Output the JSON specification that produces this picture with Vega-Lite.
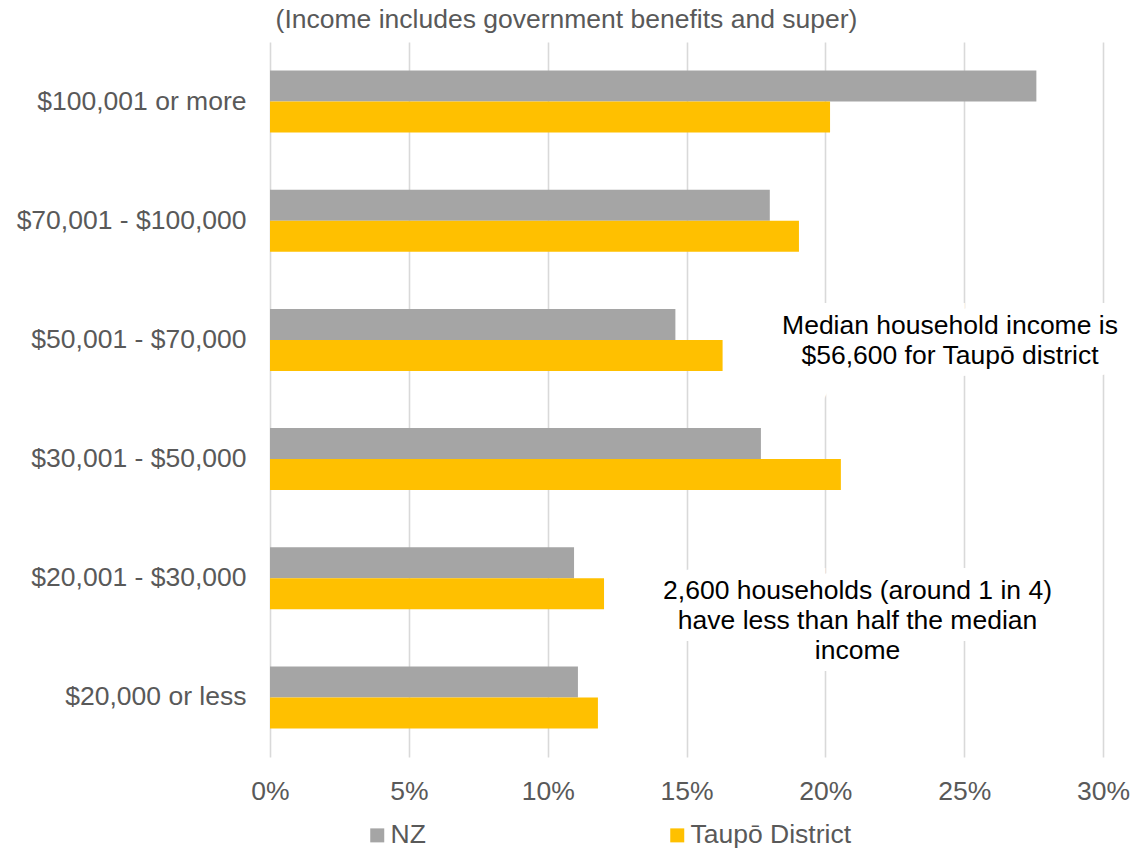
{
  "$schema": "https://vega.github.io/schema/vega-lite/v6.json",
  "width": 833,
  "height": 715,
  "autosize": {"type": "none"},
  "padding": {"left": 270, "top": 42, "right": 32, "bottom": 93},
  "background": "white",
  "title": {
    "text": "(Income includes government benefits and super)",
    "font": "Liberation Sans",
    "fontSize": 26.5,
    "fontWeight": "normal",
    "color": "#595959",
    "anchor": "middle",
    "frame": "group",
    "dx": -120,
    "offset": 9
  },
  "config": {
    "view": {"stroke": null},
    "font": "Liberation Sans"
  },
  "data": {
    "values": [
      {"band": "$100,001 or more", "series": "NZ", "pct": 27.6},
      {"band": "$100,001 or more", "series": "Taupō District", "pct": 20.17},
      {"band": "$70,001 - $100,000", "series": "NZ", "pct": 18.0},
      {"band": "$70,001 - $100,000", "series": "Taupō District", "pct": 19.05},
      {"band": "$50,001 - $70,000", "series": "NZ", "pct": 14.6},
      {"band": "$50,001 - $70,000", "series": "Taupō District", "pct": 16.3},
      {"band": "$30,001 - $50,000", "series": "NZ", "pct": 17.68},
      {"band": "$30,001 - $50,000", "series": "Taupō District", "pct": 20.56},
      {"band": "$20,001 - $30,000", "series": "NZ", "pct": 10.95},
      {"band": "$20,001 - $30,000", "series": "Taupō District", "pct": 12.03},
      {"band": "$20,000 or less", "series": "NZ", "pct": 11.09},
      {"band": "$20,000 or less", "series": "Taupō District", "pct": 11.81}
    ]
  },
  "layer": [
    {
      "mark": {"type": "bar"},
      "encoding": {
        "y": {
          "field": "band",
          "type": "nominal",
          "scale": {
            "domain": ["$100,001 or more", "$70,001 - $100,000", "$50,001 - $70,000", "$30,001 - $50,000", "$20,001 - $30,000", "$20,000 or less"],
            "paddingInner": 0.48,
            "paddingOuter": 0.24
          },
          "axis": {
            "title": null,
            "domain": false,
            "ticks": false,
            "labelFontSize": 26.5,
            "labelColor": "#595959",
            "labelPadding": 24,
            "labelFont": "Liberation Sans",
            "labelLimit": 400
          }
        },
        "yOffset": {
          "field": "series",
          "type": "nominal",
          "scale": {"domain": ["NZ", "Taupō District"], "paddingInner": 0, "paddingOuter": 0}
        },
        "x": {
          "field": "pct",
          "type": "quantitative",
          "scale": {"domain": [0, 30], "nice": false},
          "axis": {
            "title": null,
            "values": [0, 5, 10, 15, 20, 25, 30],
            "labelExpr": "datum.value + '%'",
            "domain": false,
            "ticks": false,
            "grid": true,
            "gridColor": "#d9d9d9",
            "gridWidth": 1.6,
            "labelFontSize": 26.5,
            "labelColor": "#595959",
            "labelPadding": 21,
            "labelFont": "Liberation Sans",
            "labelFlush": false
          }
        },
        "color": {
          "field": "series",
          "type": "nominal",
          "scale": {"domain": ["NZ", "Taupō District"], "range": ["#a5a5a5", "#ffc000"]},
          "legend": {
            "title": null,
            "orient": "none",
            "direction": "horizontal",
            "legendX": 94,
            "legendY": 780,
            "padding": 0,
            "symbolType": "square",
            "symbolSize": 196,
            "symbolStrokeWidth": 0,
            "labelFontSize": 26.5,
            "labelColor": "#595959",
            "labelFont": "Liberation Sans",
            "labelOffset": 0,
            "labelLimit": 400,
            "columnPadding": 238
          }
        }
      }
    },
    {
      "data": {"values": [
        {"note": "Median household income is\n$56,600 for Taupō district", "at": "$50,001 - $70,000"}
      ]},
      "layer": [
        {
          "mark": {"type": "text", "lineBreak": "\n", "fontSize": 26.5, "lineHeight": 30, "align": "center", "baseline": "middle", "dy": -14, "color": "white", "stroke": "white", "strokeWidth": 24, "font": "Liberation Sans"},
          "encoding": {"x": {"datum": 24.49}, "y": {"field": "at", "type": "nominal"}, "text": {"field": "note"}}
        },
        {
          "mark": {"type": "text", "lineBreak": "\n", "fontSize": 26.5, "lineHeight": 30, "align": "center", "baseline": "middle", "dy": -14, "color": "#000000", "font": "Liberation Sans"},
          "encoding": {"x": {"datum": 24.49}, "y": {"field": "at", "type": "nominal"}, "text": {"field": "note"}}
        }
      ]
    },
    {
      "data": {"values": [
        {"note": "2,600 households (around 1 in 4)\nhave less than half the median\nincome", "at": "$20,001 - $30,000"}
      ]},
      "layer": [
        {
          "mark": {"type": "text", "lineBreak": "\n", "fontSize": 26.5, "lineHeight": 30, "align": "center", "baseline": "middle", "dy": 13, "color": "white", "stroke": "white", "strokeWidth": 24, "font": "Liberation Sans"},
          "encoding": {"x": {"datum": 21.16}, "y": {"field": "at", "type": "nominal"}, "text": {"field": "note"}}
        },
        {
          "mark": {"type": "text", "lineBreak": "\n", "fontSize": 26.5, "lineHeight": 30, "align": "center", "baseline": "middle", "dy": 13, "color": "#000000", "font": "Liberation Sans"},
          "encoding": {"x": {"datum": 21.16}, "y": {"field": "at", "type": "nominal"}, "text": {"field": "note"}}
        }
      ]
    }
  ]
}
